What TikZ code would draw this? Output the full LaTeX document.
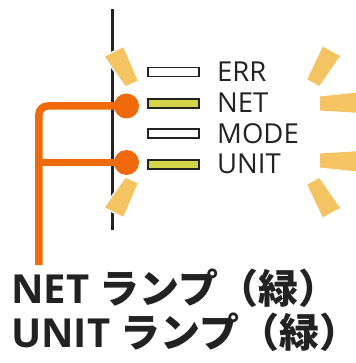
\documentclass[tikz,border=0pt]{standalone}
\usepackage{fontspec}
\setmainfont{Open Sans}
\newfontfamily\cjk{Noto Sans CJK JP}
\definecolor{wireorange}{HTML}{EE6A0A}
\definecolor{rayyellow}{HTML}{F4C462}
\definecolor{ledgreen}{HTML}{D3D447}
\definecolor{ink}{HTML}{222222}
\newcommand{\closeparen}{\makebox[0.5em][l]{）}}
\tikzset{
  ray/.style={fill=rayyellow, preaction={draw=white, line width=3pt, line join=miter}},
  ledbox/.style={draw=ink, line width=1.6pt, minimum width=51pt, minimum height=9pt, inner sep=0pt, fill=white},
  ledon/.style={ledbox, fill=ledgreen},
  ledlabel/.style={anchor=base west, inner sep=0pt, text=ink, font=\fontsize{27.5}{27.5}\selectfont},
  dot/.style={circle, fill=wireorange, minimum size=25pt, inner sep=0pt},
  wire/.style={draw=wireorange, line width=7.5pt},
  caption/.style={anchor=base west, inner sep=0pt, text=ink, font=\fontsize{40}{40}\selectfont\bfseries}
}
\begin{document}
\begin{tikzpicture}[x=1pt,y=-1pt]
\useasboundingbox (0,0) rectangle (355,363);
% panel edge
\coordinate (ptop) at (112,9);
\coordinate (pbot) at (112,230);
\draw[ink, line width=3pt] (ptop) -- (pbot);
% rays
\path[ray] (105,56.7) -- (123.3,47.3) -- (137.7,80.7) -- (125.7,86) -- cycle;
\path[ray] (105,207.3) -- (123.3,216.7) -- (137.7,183.3) -- (125.7,178) -- cycle;
\path[ray] (307.3,79.3) -- (322.7,46.7) -- (340,56) -- (319.3,86) -- cycle;
\path[ray] (307.3,184.7) -- (322.7,217.3) -- (340,208) -- (319.3,178) -- cycle;
\path[ray] (320,96.5) -- (356,92.7) -- (356,112.7) -- (320,110.5) -- cycle;
\path[ray] (320,153.5) -- (356,151.3) -- (356,171.3) -- (320,167.5) -- cycle;
% LEDs
\node[ledbox] (err) at (173.7,72.2) {};
\node[ledon] (net) at (173.7,103.3) {};
\node[ledbox] (mode) at (173.7,133.7) {};
\node[ledon] (unit) at (173.7,164.7) {};
\node[ledlabel] (errl) at (217,82) {ERR};
\node[ledlabel] (netl) at (217,112.6) {NET};
\node[ledlabel] (model) at (217,143.3) {MODE};
\node[ledlabel] (unitl) at (217,174) {UNIT};
% orange markers
\coordinate (wbot) at (38.8,265);
\coordinate (netdotc) at (126.5,106);
\coordinate (unitdotc) at (126.5,162.5);
\draw[wire, rounded corners=9pt] (netdotc) -| (wbot);
\draw[wire] (unitdotc) -- (unitdotc -| wbot);
\node[dot] (netdot) at (netdotc) {};
\node[dot] (unitdot) at (unitdotc) {};
% captions
\node[caption] (cap1) at (11,303) {NET {\cjk ランプ（緑\closeparen}};
\node[caption] (cap2) at (11,347) {UNIT {\cjk ランプ（緑\closeparen}};
\end{tikzpicture}
\end{document}
